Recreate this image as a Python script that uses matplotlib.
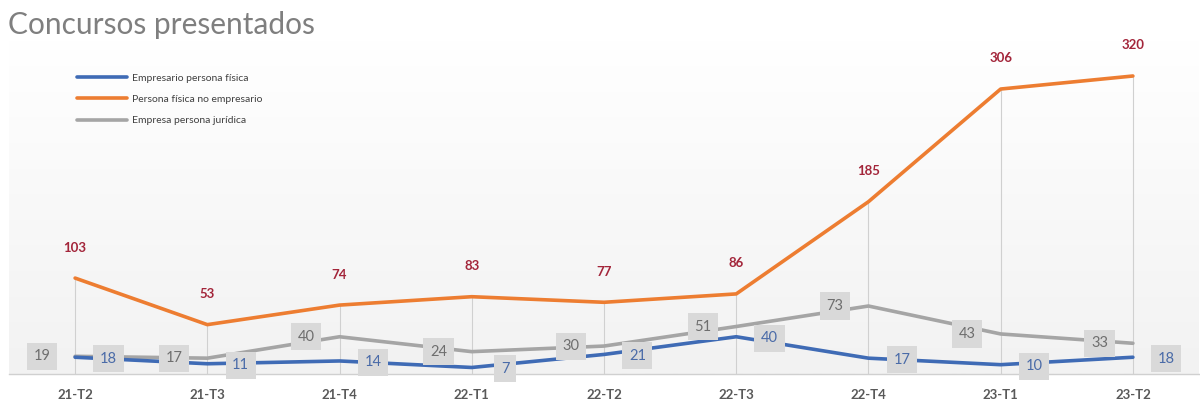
import matplotlib
matplotlib.use("Agg")
import matplotlib.pyplot as plt
import numpy as np

categories = ["21-T2", "21-T3", "21-T4", "22-T1", "22-T2", "22-T3", "22-T4", "23-T1", "23-T2"]
empresario_pf = [18, 11, 14, 7, 21, 40, 17, 10, 18]
persona_fisica_no_emp = [103, 53, 74, 83, 77, 86, 185, 306, 320]
empresa_pj = [19, 17, 40, 24, 30, 51, 73, 43, 33]

c_blue = "#3F6BB5"
c_orange = "#ED7D31"
c_grey = "#A5A5A5"
c_red = "#A3253A"

plt.rcParams['font.family'] = ['Lato', 'DejaVu Sans']

W, H = 1200, 413
fig = plt.figure(figsize=(W / 100, H / 100), dpi=100)
ax_left, ax_right = 9, 1199
ax_bottom_px, ax_top_px = 374, 40
ax = fig.add_axes([ax_left / W, (H - ax_bottom_px) / H, (ax_right - ax_left) / W, (ax_bottom_px - ax_top_px) / H])

ppu = (374 - 76) / 320.0
ymax = (ax_bottom_px - ax_top_px) / ppu
x = np.arange(len(categories))
ax.set_xlim(-0.5, len(categories) - 0.5)
ax.set_ylim(0, ymax)

# gradient background
grad = np.linspace(0, 1, 256).reshape(-1, 1)
ax.imshow(grad, extent=(-0.5, len(categories) - 0.5, 0, ymax), aspect='auto',
          cmap=matplotlib.colors.LinearSegmentedColormap.from_list("g", ["#F2F2F2", "#FFFFFF"]),
          origin='lower', zorder=0)

# drop lines
ax.vlines(x, 0, persona_fisica_no_emp, color="#D0D0D0", lw=0.8, zorder=1)

l1, = ax.plot(x, empresario_pf, color=c_blue, lw=2.6, zorder=3, solid_capstyle='round')
l2, = ax.plot(x, persona_fisica_no_emp, color=c_orange, lw=2.6, zorder=3, solid_capstyle='round')
l3, = ax.plot(x, empresa_pj, color=c_grey, lw=2.6, zorder=2, solid_capstyle='round')

box = dict(boxstyle="square,pad=0.45", fc="#D9D9D9", ec="none")
for xi, v in zip(x, persona_fisica_no_emp):
    ax.annotate(str(v), (xi, v), xytext=(0, 22), textcoords="offset points",
                ha="center", va="center", color=c_red, fontsize=9.5, fontweight="bold", zorder=5)
for xi, v in zip(x, empresa_pj):
    ax.annotate(str(v), (xi, v), xytext=(-24, 0), textcoords="offset points",
                ha="center", va="center", color="#6E6E6E", fontsize=10.5, bbox=box, zorder=5)
for xi, v in zip(x, empresario_pf):
    ax.annotate(str(v), (xi, v), xytext=(24, -1), textcoords="offset points",
                ha="center", va="center", color="#4A6BA8", fontsize=10.5, bbox=box, zorder=5)

for s in ["top", "right", "left"]:
    ax.spines[s].set_visible(False)
ax.spines["bottom"].set_color("#D0D0D0")
ax.spines["bottom"].set_linewidth(1)
ax.set_yticks([])
ax.set_xticks(x)
ax.set_xticklabels(categories, color="#595959", fontsize=9.5, fontweight="bold")
ax.tick_params(axis="x", length=0, pad=11)

leg = ax.legend([l1, l2, l3], ["Empresario persona física", "Persona física no empresario", "Empresa persona jurídica"],
                loc="upper left", bbox_to_anchor=((68 - ax_left) / (ax_right - ax_left), 1 - (64 - ax_top_px) / (ax_bottom_px - ax_top_px)),
                frameon=False, fontsize=7.5, handlelength=4.8, handletextpad=0.4, labelspacing=1.15,
                labelcolor="#404040")

fig.text(8 / W, 1 - 25 / H, "Concursos presentados", fontsize=21.5, color="#7F7F7F", ha="left", va="center")

fig.savefig("out.png", dpi=100)
